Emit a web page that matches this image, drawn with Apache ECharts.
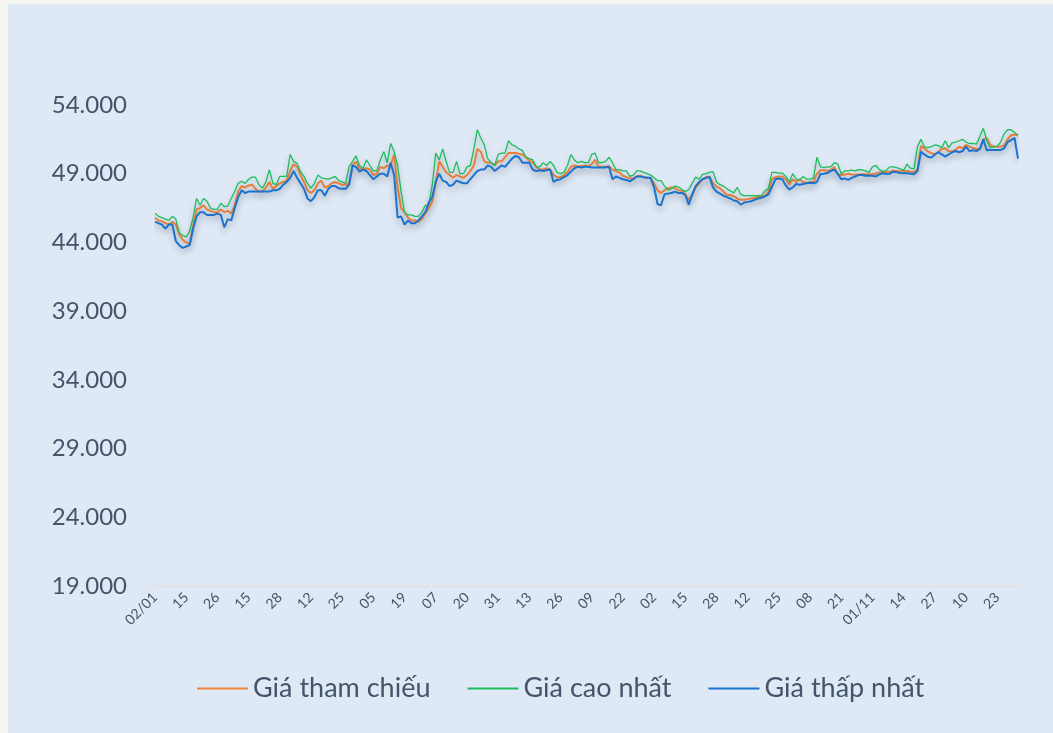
<!DOCTYPE html>
<html>
<head>
  <meta charset="utf-8">
  <title>Giá cổ phiếu</title>
  <script src="https://cdn.jsdelivr.net/npm/echarts@6/dist/echarts.min.js"></script>
  <style>
    body {
      margin: 0;
      background: #f4f5ef;
    }
    #chart-container {
      position: absolute;
      left: 8px;
      top: 4px;
      width: 1045px;
      height: 729px;
      background: #dee9f5;
    }
  </style>
</head>
<body>
<div id="chart-container"></div>

<script>
  // ngày nghỉ lễ 2024 (không giao dịch)
  var holidays = ['2024-01-01', '2024-02-08', '2024-02-09', '2024-02-12', '2024-02-13', '2024-02-14',
    '2024-04-18', '2024-04-29', '2024-04-30', '2024-05-01', '2024-09-02', '2024-09-03'];

  // giá tham chiếu (nghìn đồng)
  var refPrice = [
    45.8, 45.6, 45.55, 45.4, 45.3, 45.5, 45.3, 44.6, 44.2, 44.0,
    43.9, 45.2, 46.4, 46.5, 46.7, 46.4, 46.3, 46.2, 46.2, 46.4,
    46.2, 46.3, 46.1, 46.7, 47.7, 48.1, 48.0, 48.15, 48.2, 47.9,
    47.7, 47.7, 48.0, 48.4, 47.9, 48.1, 48.3, 48.4, 48.5, 49.2,
    49.7, 49.5, 48.9, 48.4, 47.8, 47.6, 47.8, 48.3, 48.5, 48.0,
    48.1, 48.3, 48.4, 48.3, 48.2, 48.2, 48.3, 49.6, 49.9, 49.4,
    49.3, 49.4, 49.3, 48.9, 49.0, 49.5, 49.4, 49.6, 49.6, 50.4,
    48.0, 46.5, 46.2, 45.8, 45.6, 45.6, 45.5, 45.7, 46.1, 46.5,
    47.0, 48.4, 49.9, 49.5, 49.1, 48.9, 48.7, 48.9, 48.8, 48.7,
    48.9, 49.2, 49.6, 50.8, 50.6, 49.9, 49.8, 49.8, 49.6, 49.9,
    49.9, 50.2, 50.5, 50.5, 50.5, 50.45, 50.4, 50.2, 49.95, 49.8,
    49.5, 49.3, 49.3, 49.4, 49.3, 48.9, 48.75, 48.75, 48.9, 49.1,
    49.5, 49.6, 49.55, 49.55, 49.6, 49.55, 49.7, 50.0, 49.5, 49.5,
    49.5, 49.55, 49.3, 49.2, 49.1, 48.85, 48.75, 48.66, 48.66, 48.8,
    48.85, 48.75, 48.7, 48.66, 48.3, 47.8, 47.6, 47.8, 47.95, 48.0,
    47.95, 47.8, 47.75, 47.5, 47.1, 47.45, 48.0, 48.3, 48.6, 48.75,
    48.8, 48.3, 48.05, 47.95, 47.7, 47.45, 47.45, 47.35, 47.2, 47.1,
    47.1, 47.15, 47.2, 47.25, 47.3, 47.35, 47.4, 47.7, 48.6, 48.75,
    48.8, 48.8, 48.6, 48.2, 48.6, 48.4, 48.6, 48.4, 48.35, 48.4,
    48.4, 49.0, 49.25, 49.25, 49.22, 49.25, 49.5, 48.95, 48.9, 48.95,
    49.0, 48.95, 48.92, 48.95, 48.96, 48.96, 48.96, 48.96, 49.02, 49.08,
    49.1, 49.12, 49.15, 49.22, 49.2, 49.17, 49.2, 49.2, 49.15, 49.12,
    49.3, 51.0, 50.85, 50.62, 50.5, 50.41, 50.58, 50.82, 50.85, 50.65,
    50.6, 50.75, 50.97, 50.85, 51.1, 50.97, 50.87, 50.82, 50.8, 51.5,
    51.6, 51.1, 50.98, 50.97, 50.97, 51.05, 51.5, 51.8, 51.85, 51.8
  ];

  // giá cao nhất
  var highPrice = [
    46.1, 45.9, 45.8, 45.7, 45.6, 45.9, 45.7, 44.7, 44.5, 44.4,
    44.8, 45.8, 47.2, 46.7, 47.2, 47.0, 46.5, 46.4, 46.4, 46.85,
    46.6, 46.65, 47.2, 47.7, 48.3, 48.45, 48.3, 48.6, 48.75, 48.75,
    48.2, 47.95, 48.4, 49.3, 48.3, 48.2, 48.8, 48.8, 48.8, 50.4,
    49.9, 49.75, 49.15, 48.8, 48.3, 47.95, 48.3, 48.9, 48.7, 48.65,
    48.6, 48.7, 48.8, 48.5, 48.4, 48.3, 49.5, 49.9, 50.3, 49.6,
    49.4, 50.0, 49.6, 49.2, 49.2, 50.0, 50.6, 49.8, 51.2, 50.6,
    49.6, 47.7, 46.2, 46.0, 46.0, 45.9, 45.9, 46.2, 46.7, 46.7,
    48.2, 50.5, 50.0, 50.8, 49.9, 49.1, 49.1, 49.9, 49.0, 49.0,
    49.5, 49.6, 50.8, 52.2, 51.6, 51.1, 50.1, 49.8, 49.6, 50.4,
    50.5, 50.5, 51.4, 51.1, 51.0, 50.8, 50.7, 50.2, 50.1, 50.0,
    49.5, 49.5, 49.8, 49.6, 49.9, 49.6, 49.1, 49.0, 49.1, 49.6,
    50.4, 50.0, 49.8, 49.9, 49.8, 49.8, 50.4, 50.5, 49.8, 49.8,
    49.9, 50.2, 49.8, 49.3, 49.3, 49.2, 49.2, 48.8, 48.9, 49.2,
    49.2, 49.1, 49.0, 48.9, 48.7, 48.5, 48.5, 48.1, 47.8, 47.9,
    48.1, 48.05, 47.85, 47.7, 47.85, 48.3, 48.75, 48.6, 48.95, 49.0,
    49.1, 49.15, 48.4, 48.2, 48.1, 47.9, 47.75, 47.6, 48.0, 47.5,
    47.4, 47.4, 47.4, 47.4, 47.4, 47.4, 47.75, 47.95, 49.1, 49.1,
    49.05, 49.05, 48.8, 48.4, 49.0, 48.6, 48.55, 48.8, 48.6, 48.6,
    48.7, 50.2, 49.5, 49.45, 49.5, 49.5, 49.8, 49.7, 49.0, 49.2,
    49.2, 49.27, 49.2, 49.3, 49.28, 49.2, 49.1, 49.5, 49.6, 49.3,
    49.15, 49.25, 49.5, 49.5, 49.44, 49.35, 49.25, 49.7, 49.4, 49.35,
    51.0, 51.5, 50.95, 50.9, 50.97, 51.09, 51.04, 50.9, 51.4, 50.9,
    51.25, 51.3, 51.4, 51.5, 51.3, 51.2, 51.2, 51.15, 51.7, 52.3,
    51.4, 50.9, 50.95, 51.0, 51.3, 51.9, 52.2, 52.2, 52.0, 51.8
  ];

  // giá thấp nhất
  var lowPrice = [
    45.5, 45.4, 45.3, 45.0, 45.3, 45.3, 44.1, 43.8, 43.6, 43.7,
    43.8, 45.0, 45.9, 46.2, 46.2, 46.0, 46.0, 46.0, 46.1, 46.0,
    45.1, 45.7, 45.6, 46.5, 47.3, 47.8, 47.6, 47.7, 47.7, 47.7,
    47.7, 47.7, 47.7, 47.7, 47.8, 47.8, 47.9, 48.2, 48.4, 48.7,
    49.2, 48.7, 48.3, 47.9, 47.2, 47.0, 47.3, 47.8, 47.8, 47.4,
    47.9, 48.1, 48.1, 47.95, 47.9, 47.9, 48.2, 49.6, 49.5, 49.15,
    49.3, 49.2, 48.9, 48.6, 48.8, 49.0, 49.0, 48.8, 49.8, 48.9,
    45.8, 45.9, 45.3, 45.6, 45.4, 45.4, 45.6, 45.9, 46.2, 46.9,
    47.3, 48.4, 49.0, 48.5, 48.4, 48.1, 48.2, 48.5, 48.4, 48.3,
    48.3, 48.6, 48.9, 49.2, 49.3, 49.3, 49.6, 49.5, 49.2, 49.4,
    49.6, 49.5, 49.8, 50.1, 50.3, 50.2, 49.8, 49.8, 49.8, 49.3,
    49.2, 49.25, 49.2, 49.25, 49.3, 48.4, 48.55, 48.6, 48.75, 48.9,
    49.15, 49.4, 49.5, 49.45, 49.5, 49.5, 49.45, 49.45, 49.45, 49.45,
    49.45, 49.5, 48.6, 48.8, 48.7, 48.6, 48.55, 48.45, 48.6, 48.8,
    48.8, 48.75, 48.7, 48.7, 48.0, 46.8, 46.7, 47.5, 47.55, 47.6,
    47.7, 47.6, 47.6, 47.45, 46.75, 47.5, 48.1, 48.4, 48.6, 48.7,
    48.75, 48.0, 47.7, 47.55, 47.4, 47.3, 47.2, 47.05, 47.0, 46.75,
    46.9, 46.95, 47.0, 47.1, 47.2, 47.25, 47.35, 47.5, 48.05, 48.6,
    48.65, 48.6, 48.15, 47.85, 48.0, 48.25, 48.2, 48.25, 48.3, 48.35,
    48.3, 48.4, 48.98, 49.0, 49.05, 49.2, 49.3, 49.0, 48.6, 48.65,
    48.55, 48.7, 48.8, 48.9, 48.9, 48.86, 48.86, 48.85, 48.8, 48.95,
    49.03, 48.97, 49.0, 49.15, 49.1, 49.05, 49.03, 49.03, 49.0, 48.96,
    49.2, 50.6, 50.4, 50.24, 50.17, 50.4, 50.56, 50.4, 50.25, 50.4,
    50.56, 50.65, 50.56, 50.65, 50.97, 50.65, 50.7, 50.65, 50.8, 51.5,
    50.7, 50.73, 50.73, 50.73, 50.73, 50.85, 51.3, 51.45, 51.6, 50.1
  ];

  var yTicks = { min: 19000, max: 54000, step: 5000 };

  // ngày giao dịch năm 2024
  var tradingDays = [];
  var d = new Date(Date.UTC(2024, 0, 1));
  while (d.getUTCFullYear() === 2024) {
    var iso = d.toISOString().split('T')[0];
    var wd = d.getUTCDay();
    if (wd !== 0 && wd !== 6 && holidays.indexOf(iso) < 0) tradingDays.push(iso);
    d.setUTCDate(d.getUTCDate() + 1);
  }
  tradingDays = tradingDays.slice(0, refPrice.length);

  function toVnd(arr) {
    return arr.map(function (v) { return Math.round(v * 1000); });
  }

  function fmtNumber(v) {
    return String(v).replace(/\B(?=(\d{3})+(?!\d))/g, '.');
  }

  var txtColor = '#44546a';
  var shadow = { shadowColor: 'rgba(40,50,70,0.28)', shadowBlur: 6, shadowOffsetY: 4 };

  var myChart = echarts.init(document.getElementById('chart-container'));

  myChart.setOption({
    animation: false,
    textStyle: { fontFamily: 'Lato, "Noto Sans", sans-serif' },
    grid: { left: 147, right: 35, top: 101, bottom: 147 },
    legend: {
      top: 666,
      left: 184,
      icon: 'rect',
      itemWidth: 51,
      itemHeight: 2,
      itemGap: 37,
      textStyle: { color: txtColor, fontSize: 27 },
      data: ['Giá tham chiếu', 'Giá cao nhất', 'Giá thấp nhất']
    },
    xAxis: {
      type: 'category',
      boundaryGap: false,
      data: tradingDays,
      axisTick: { show: false },
      axisLine: { lineStyle: { color: '#e9dfdc', type: 'dotted', width: 2 } },
      axisLabel: {
        interval: 8,
        rotate: 45,
        margin: 9,
        color: txtColor,
        fontSize: 14,
        formatter: function (val, idx) {
          var p = val.split('-');
          if (idx === 0 || p[2] === '01') return p[2] + '/' + p[1];
          return p[2];
        }
      }
    },
    yAxis: {
      type: 'value',
      min: yTicks.min,
      max: yTicks.max,
      interval: yTicks.step,
      splitLine: { show: false },
      axisLabel: {
        margin: 28,
        color: txtColor,
        fontSize: 24,
        formatter: fmtNumber
      }
    },
    series: [
      {
        name: 'Giá tham chiếu',
        type: 'line',
        showSymbol: false,
        data: toVnd(refPrice),
        itemStyle: { color: '#f0843a' },
        lineStyle: Object.assign({ width: 2, color: '#f0843a' }, shadow)
      },
      {
        name: 'Giá cao nhất',
        type: 'line',
        showSymbol: false,
        data: toVnd(highPrice),
        itemStyle: { color: '#1dbd5c' },
        lineStyle: Object.assign({ width: 1.3, color: '#1dbd5c' }, shadow)
      },
      {
        name: 'Giá thấp nhất',
        type: 'line',
        showSymbol: false,
        data: toVnd(lowPrice),
        itemStyle: { color: '#1a74cf' },
        lineStyle: Object.assign({ width: 2, color: '#1a74cf' }, shadow)
      }
    ]
  });
</script>
</body>
</html>
